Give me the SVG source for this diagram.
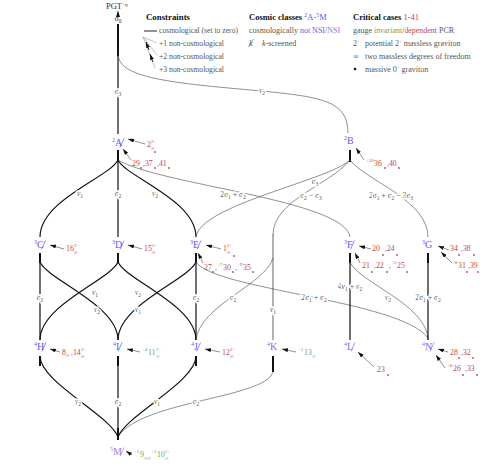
<svg xmlns="http://www.w3.org/2000/svg" width="480" height="473" viewBox="0 0 480 473">
<style>
text{font-family:"Liberation Serif",serif}
.nl{font-size:10px;fill:#5b5bf5}
.nsi{fill:#7c6cf0}
.m{fill:#a878d8}
.ns{font-size:6px}
.sl{stroke:#5b5bf5;stroke-width:0.7}
.sli{stroke:#7c6cf0;stroke-width:0.7}
.slm{stroke:#a878d8;stroke-width:0.7}
.el{font-size:7.8px;fill:#555;paint-order:stroke;stroke:#fff;stroke-width:3px;stroke-linejoin:round;text-anchor:middle}
.i{font-style:italic}
.sb{font-size:5.5px}
.r{font-size:7.8px;fill:#c04848}
.g{font-size:7.8px;fill:#6f9f6f}
.sm{font-size:5px}
.c{fill:none;stroke:#111;stroke-width:1.2}
.k{fill:none;stroke:#111;stroke-width:2}
.nc{fill:none;stroke:#444;stroke-width:0.6}
.gr{fill:none;stroke:#888;stroke-width:1.3}
.an{fill:none;stroke:#444;stroke-width:0.6;marker-end:url(#ah)}
.dot{fill:#c04848}
.lg{font-size:8px;fill:#555}
.hd{font-size:8.5px;font-weight:bold;fill:#111}
</style>
<defs>
<marker id="ah" markerUnits="userSpaceOnUse" markerWidth="6" markerHeight="4" refX="6" refY="2" orient="auto"><path d="M0,0 L6,2 L0,4 z" fill="#111"/></marker>
</defs>

<!-- Legend -->
<g id="legend">
<text class="hd" x="146" y="20" textLength="44" lengthAdjust="spacingAndGlyphs">Constraints</text>
<line x1="144" y1="31" x2="157" y2="31" stroke="#111" stroke-width="0.9"/>
<text class="lg" x="159" y="33" textLength="79" lengthAdjust="spacingAndGlyphs">cosmological (set to zero)</text>
<line x1="143" y1="37" x2="157" y2="43" stroke="#888" stroke-width="0.5"/>
<line x1="143" y1="37" x2="157" y2="55" stroke="#888" stroke-width="0.5"/>
<line x1="143" y1="37" x2="155" y2="68" stroke="#888" stroke-width="0.5"/>
<line x1="149" y1="50" x2="146" y2="42" stroke="#111" stroke-width="0.9" marker-end="url(#ah)"/>
<line x1="153" y1="62" x2="150" y2="54" stroke="#111" stroke-width="0.9" marker-end="url(#ah)"/>
<text class="lg" x="159" y="46" textLength="65" lengthAdjust="spacingAndGlyphs">+1 non-cosmological</text>
<text class="lg" x="159" y="59" textLength="65" lengthAdjust="spacingAndGlyphs">+2 non-cosmological</text>
<text class="lg" x="159" y="72" textLength="65" lengthAdjust="spacingAndGlyphs">+3 non-cosmological</text>

<text class="hd" x="249" y="20">Cosmic classes <tspan fill="#5b5bf5" font-weight="normal"><tspan class="ns" dy="-3">2</tspan><tspan dy="3">A-</tspan><tspan class="ns" dy="-3">5</tspan><tspan dy="3">M</tspan></tspan></text>
<text class="lg" x="249" y="33">cosmologically <tspan fill="#5b5bf5">not NSI</tspan>/<tspan fill="#a070e0">NSI</tspan></text>
<text class="lg i" x="249" y="46">k</text>
<line x1="248.5" y1="47" x2="253.5" y2="39" stroke="#555" stroke-width="0.6"/>
<text class="lg" x="262" y="46"><tspan class="i">k</tspan>-screened</text>

<text class="hd" x="353" y="20">Critical cases <tspan fill="#c04848" font-weight="normal">1-41</tspan></text>
<text class="lg" x="353" y="33" textLength="101" lengthAdjust="spacingAndGlyphs">gauge <tspan fill="#6f9f6f">invariant</tspan>/<tspan fill="#c04848">dependent</tspan> PCR</text>
<text class="lg" x="353" y="46">2<tspan class="sm" dy="-3">+</tspan><tspan x="365" dy="3">potential 2</tspan><tspan class="sm" dy="-3">+</tspan><tspan dy="3"> massless graviton</tspan></text>
<text class="lg" x="353" y="59">∞<tspan x="365">two massless degrees of freedom</tspan></text>
<circle cx="355" cy="69" r="1.3" fill="#111"/>
<text class="lg" x="365" y="72">massive 0<tspan class="sm" dy="-3">−</tspan><tspan dy="3"> graviton</tspan></text>
</g>

<!-- Connectors -->
<g id="connectors">
<line x1="118" y1="16" x2="118" y2="11" stroke="#111" stroke-width="0.6" marker-end="url(#ah)"/>
<path class="k" d="M118,24 L118,56"/>
<path class="c" d="M118,56 L118,134"/>
<path class="nc" d="M118,55 C120,78 170,83 262,91 C320,97 348,100 348,133"/>
<path class="k" d="M118,150 L118,162"/>
<path class="c" d="M118,160 C110,177 40,200 40,237"/>
<path class="c" d="M118,160 L118,237"/>
<path class="c" d="M118,160 C126,177 196,200 196,237"/>
<path class="nc" d="M118,160 C160,185 345,200 350,237"/>
<path class="k" d="M350,150 L350,162"/>
<path class="nc" d="M350,160 C330,180 200,205 196,237"/>
<path class="nc" d="M350,160 C330,185 273,200 273,235"/>
<path class="gr" d="M273,234 L273,340"/>
<path class="nc" d="M350,160 C365,180 428,200 428,237"/>

<path class="k" d="M40,253 L40,263"/>
<path class="k" d="M118,253 L118,263"/>
<path class="k" d="M196,253 L196,263"/>
<path class="k" d="M350,253 L350,263"/>
<path class="k" d="M428,253 L428,263"/>
<path class="c" d="M40,262 L40,340"/>
<path class="c" d="M40,262 C48,280 118,305 118,340"/>
<path class="c" d="M118,262 C110,280 40,305 40,340"/>
<path class="c" d="M118,262 C126,280 196,305 196,340"/>
<path class="c" d="M196,262 C188,280 118,305 118,340"/>
<path class="c" d="M196,262 L196,340"/>
<path class="nc" d="M196,262 C215,290 400,300 428,338"/>
<path class="nc" d="M273,258 C265,285 200,305 196,340"/>
<path class="c" d="M350,262 L350,340"/>
<path class="nc" d="M350,262 C358,282 428,305 428,340"/>
<path class="c" d="M428,262 L428,340"/>

<path class="k" d="M40,356 L40,366"/>
<path class="k" d="M118,356 L118,366"/>
<path class="k" d="M196,356 L196,366"/>
<path class="k" d="M273,356 L273,372"/>
<path class="c" d="M40,356 C40,382 110,415 118,437"/>
<path class="c" d="M118,356 L118,440"/>
<path class="c" d="M196,356 C196,382 126,415 118,437"/>
<path class="nc" d="M273,370 C273,398 140,400 118,437"/>
<path class="k" d="M118,428 L118,440"/>

<!-- edge labels -->
<text class="el" x="118" y="94"><tspan class="i">σ</tspan><tspan class="sb" dy="1.5">3</tspan></text>
<text class="el" x="262" y="93"><tspan class="i">v</tspan><tspan class="sb" dy="1.5">2</tspan></text>
<text class="el" x="80" y="196"><tspan class="i">v</tspan><tspan class="sb" dy="1.5">1</tspan></text>
<text class="el" x="118" y="196"><tspan class="i">σ</tspan><tspan class="sb" dy="1.5">2</tspan></text>
<text class="el" x="155" y="196"><tspan class="i">v</tspan><tspan class="sb" dy="1.5">2</tspan></text>
<text class="el" x="233" y="197">2<tspan class="i">σ</tspan><tspan class="sb" dy="1.5">1</tspan><tspan dy="-1.5"> + </tspan><tspan class="i">σ</tspan><tspan class="sb" dy="1.5">2</tspan></text>
<text class="el" x="315" y="184"><tspan class="i">σ</tspan><tspan class="sb" dy="1.5">3</tspan></text>
<text class="el" x="311" y="198"><tspan class="i">σ</tspan><tspan class="sb" dy="1.5">2</tspan><tspan dy="-1.5"> − </tspan><tspan class="i">σ</tspan><tspan class="sb" dy="1.5">3</tspan></text>
<text class="el" x="391" y="198">2<tspan class="i">σ</tspan><tspan class="sb" dy="1.5">1</tspan><tspan dy="-1.5"> + </tspan><tspan class="i">σ</tspan><tspan class="sb" dy="1.5">2</tspan><tspan dy="-1.5"> − 3</tspan><tspan class="i">σ</tspan><tspan class="sb" dy="1.5">3</tspan></text>

<text class="el" x="40" y="300"><tspan class="i">σ</tspan><tspan class="sb" dy="1.5">2</tspan></text>
<text class="el" x="95" y="295"><tspan class="i">v</tspan><tspan class="sb" dy="1.5">1</tspan></text>
<text class="el" x="138" y="295"><tspan class="i">v</tspan><tspan class="sb" dy="1.5">2</tspan></text>
<text class="el" x="97" y="312"><tspan class="i">v</tspan><tspan class="sb" dy="1.5">2</tspan></text>
<text class="el" x="138" y="312"><tspan class="i">v</tspan><tspan class="sb" dy="1.5">1</tspan></text>
<text class="el" x="196" y="300"><tspan class="i">σ</tspan><tspan class="sb" dy="1.5">2</tspan></text>
<text class="el" x="233" y="300"><tspan class="i">σ</tspan><tspan class="sb" dy="1.5">2</tspan></text>
<text class="el" x="273" y="312"><tspan class="i">v</tspan><tspan class="sb" dy="1.5">1</tspan></text>
<text class="el" x="314" y="300">2<tspan class="i">σ</tspan><tspan class="sb" dy="1.5">1</tspan><tspan dy="-1.5"> + </tspan><tspan class="i">σ</tspan><tspan class="sb" dy="1.5">2</tspan></text>
<text class="el" x="350" y="289">4<tspan class="i">v</tspan><tspan class="sb" dy="1.5">1</tspan><tspan dy="-1.5"> + </tspan><tspan class="i">v</tspan><tspan class="sb" dy="1.5">2</tspan></text>
<text class="el" x="388" y="300"><tspan class="i">v</tspan><tspan class="sb" dy="1.5">2</tspan></text>
<text class="el" x="428" y="300">2<tspan class="i">σ</tspan><tspan class="sb" dy="1.5">1</tspan><tspan dy="-1.5"> + </tspan><tspan class="i">σ</tspan><tspan class="sb" dy="1.5">2</tspan></text>

<text class="el" x="78" y="404"><tspan class="i">v</tspan><tspan class="sb" dy="1.5">2</tspan></text>
<text class="el" x="118" y="404"><tspan class="i">σ</tspan><tspan class="sb" dy="1.5">2</tspan></text>
<text class="el" x="157" y="404"><tspan class="i">v</tspan><tspan class="sb" dy="1.5">1</tspan></text>
<text class="el" x="196" y="404"><tspan class="i">σ</tspan><tspan class="sb" dy="1.5">2</tspan></text>

<!-- annotation arrows -->
<line class="an" x1="145" y1="144" x2="128" y2="139"/>
<line class="an" x1="131" y1="160" x2="123" y2="149"/>
<line class="an" x1="364" y1="160" x2="356" y2="148"/>
<line class="an" x1="64" y1="249" x2="50" y2="245"/>
<line class="an" x1="142" y1="249" x2="128" y2="245"/>
<line class="an" x1="221" y1="249" x2="206" y2="245"/>
<line class="an" x1="203" y1="263" x2="198" y2="253"/>
<line class="an" x1="371" y1="249" x2="359" y2="246"/>
<line class="an" x1="360" y1="263" x2="355" y2="253"/>
<line class="an" x1="449" y1="250" x2="438" y2="246"/>
<line class="an" x1="452" y1="263" x2="441" y2="252"/>
<line class="an" x1="60" y1="352" x2="50" y2="349"/>
<line class="an" x1="140" y1="352" x2="127" y2="349"/>
<line class="an" x1="220" y1="352" x2="205" y2="349"/>
<line class="an" x1="296" y1="352" x2="282" y2="349"/>
<line class="an" x1="374" y1="367" x2="358" y2="352"/>
<line class="an" x1="448" y1="352" x2="438" y2="349"/>
<line class="an" x1="445" y1="368" x2="436" y2="355"/>
<line class="an" x1="132" y1="455" x2="126" y2="451"/>
</g>

<!-- Nodes -->
<g id="node-PGT">
<text x="106" y="9" font-size="8.5" fill="#333">PGT<tspan class="sm" dy="-3">+q</tspan></text>
<text x="118" y="21" font-size="8.5" fill="#333" text-anchor="middle"><tspan class="i">σ</tspan><tspan class="sb" dy="1.5">0</tspan></text>
</g>

<g id="node-2A">
<text class="nl" x="112" y="146"><tspan class="ns" dy="-4">2</tspan><tspan dy="4">A</tspan></text>
<line class="sl" x1="120" y1="147.5" x2="124" y2="138.5"/>
<text class="r" x="147" y="147">2</text><text class="r sm" x="151" y="142.5">2+</text><text class="r sm" x="151" y="150">∞</text>
<circle class="dot" cx="155" cy="152" r="0.9"/>
<text class="r" x="132" y="166">29</text><circle class="dot" cx="141" cy="168" r="0.9"/>
<text class="r" x="143" y="166">,37</text><circle class="dot" cx="155" cy="168" r="0.9"/>
<text class="r" x="157" y="166">,41</text><circle class="dot" cx="169" cy="168" r="0.9"/>
</g>

<g id="node-2B">
<text class="nl" x="344" y="144"><tspan class="ns" dy="-4">2</tspan><tspan dy="4">B</tspan></text>
<text class="r sm" x="366" y="162">+10</text><text class="r" x="374" y="166">36</text><circle class="dot" cx="385" cy="168" r="0.9"/>
<text class="r" x="387" y="166">,40</text><circle class="dot" cx="399" cy="168" r="0.9"/>
</g>

<g id="node-3C">
<text class="nl" x="34" y="248"><tspan class="ns" dy="-4">3</tspan><tspan dy="4">C</tspan></text>
<line class="sl" x1="41.5" y1="249.5" x2="45.5" y2="240.5"/>
<text class="r" x="66" y="251">16</text><text class="r sm" x="74" y="246.5">2+</text><text class="r sm" x="74" y="254">∞</text>
</g>

<g id="node-3D">
<text class="nl" x="112" y="248"><tspan class="ns" dy="-4">3</tspan><tspan dy="4">D</tspan></text>
<line class="sl" x1="120" y1="249.5" x2="124" y2="240.5"/>
<text class="r" x="144" y="251">15</text><text class="r sm" x="152" y="246.5">2+</text><text class="r sm" x="152" y="254">∞</text>
</g>

<g id="node-3E">
<text class="nl" x="190" y="248"><tspan class="ns" dy="-4">3</tspan><tspan dy="4">E</tspan></text>
<line class="sl" x1="197" y1="249.5" x2="201" y2="240.5"/>
<text class="r" x="223" y="251">1</text><text class="r sm" x="227" y="246.5">2+</text><text class="r sm" x="227" y="254">∞</text>
<circle class="dot" cx="234" cy="256" r="0.9"/>
<text class="r" x="204" y="270">27</text><circle class="dot" cx="213" cy="272" r="0.9"/>
<text class="r" x="215" y="270">,</text><text class="r sm" x="217" y="265.5">+7</text><text class="r" x="223" y="270">30</text><circle class="dot" cx="233" cy="272" r="0.9"/>
<text class="r" x="235" y="270">,</text><text class="r sm" x="237" y="265.5">+9</text><text class="r" x="243" y="270">35</text><circle class="dot" cx="253" cy="272" r="0.9"/>
</g>

<g id="node-3F">
<text class="nl" x="344" y="248"><tspan class="ns" dy="-4">3</tspan><tspan dy="4">F</tspan></text>
<line class="sl" x1="350.5" y1="249.5" x2="354.5" y2="240.5"/>
<text class="r" x="372" y="251">20</text><circle class="dot" cx="383" cy="255" r="0.9"/>
<text class="r" x="385" y="251">,24</text><circle class="dot" cx="397" cy="255" r="0.9"/>
<text class="r" x="362" y="268">21</text><circle class="dot" cx="372" cy="272" r="0.9"/>
<text class="r" x="374" y="268">,22</text><circle class="dot" cx="387" cy="272" r="0.9"/>
<text class="r" x="389" y="268">,</text><text class="r sm" x="391" y="263.5">+5</text><text class="r" x="397" y="268">25</text><circle class="dot" cx="407" cy="272" r="0.9"/>
</g>

<g id="node-3G">
<text class="nl" x="422" y="248"><tspan class="ns" dy="-4">3</tspan><tspan dy="4">G</tspan></text>
<text class="r" x="450" y="251">34</text><circle class="dot" cx="459" cy="255" r="0.9"/>
<text class="r" x="461" y="251">,38</text><circle class="dot" cx="474" cy="255" r="0.9"/>
<text class="r sm" x="452" y="264">+8</text><text class="r" x="458" y="268">31</text><circle class="dot" cx="467" cy="272" r="0.9"/>
<text class="r" x="468" y="268">,39</text><circle class="dot" cx="478" cy="272" r="0.9"/>
</g>

<g id="node-4H">
<text class="nl" x="34" y="350"><tspan class="ns" dy="-4">4</tspan><tspan dy="4">H</tspan></text>
<line class="sl" x1="42" y1="351.5" x2="46" y2="342.5"/>
<text class="r" x="62" y="355">8</text><text class="r sm" x="66" y="357">∞</text><text class="r" x="71" y="355">,14</text><text class="r sm" x="81" y="350.5">2+</text><text class="r sm" x="81" y="358">∞</text>
</g>

<g id="node-4I">
<text class="nl" x="113" y="350"><tspan class="ns" dy="-4">4</tspan><tspan dy="4">I</tspan></text>
<line class="sl" x1="118" y1="351.5" x2="122" y2="342.5"/>
<text class="g sm" x="142" y="351">+4</text><text class="g" x="148" y="355">11</text><text class="g sm" x="156" y="350.5">2+</text><text class="g sm" x="156" y="358">∞</text>
</g>

<g id="node-4J">
<text class="nl" x="191" y="350"><tspan class="ns" dy="-4">4</tspan><tspan dy="4">J</tspan></text>
<line class="sl" x1="196.5" y1="351.5" x2="200.5" y2="342.5"/>
<text class="r" x="222" y="355">12</text><text class="r sm" x="230" y="350.5">2+</text><text class="r sm" x="230" y="358">∞</text>
</g>

<g id="node-4K">
<text class="nl nsi" x="267" y="350"><tspan class="ns" dy="-4">4</tspan><tspan dy="4">K</tspan></text>
<text class="g sm" x="298" y="351">+2</text><text class="g" x="304" y="355">13</text><text class="g sm" x="312" y="357.5">∞</text>
</g>

<g id="node-4L">
<text class="nl nsi" x="344" y="350"><tspan class="ns" dy="-4">4</tspan><tspan dy="4">L</tspan></text>
<line class="sli" x1="351" y1="351.5" x2="355" y2="342.5"/>
<text class="r" x="377" y="372">23</text><circle class="dot" cx="388" cy="375" r="0.9"/>
</g>

<g id="node-4N">
<text class="nl nsi" x="422" y="350"><tspan class="ns" dy="-4">4</tspan><tspan dy="4">N</tspan></text>
<line class="sli" x1="430" y1="351.5" x2="434" y2="342.5"/>
<text class="r" x="450" y="355">28</text><circle class="dot" cx="459" cy="358" r="0.9"/>
<text class="r" x="461" y="355">,32</text><circle class="dot" cx="473" cy="358" r="0.9"/>
<text class="r sm" x="447" y="367">+6</text><text class="r" x="453" y="371">26</text><circle class="dot" cx="463" cy="375" r="0.9"/>
<text class="r" x="465" y="371">,33</text><circle class="dot" cx="477" cy="375" r="0.9"/>
</g>

<g id="node-5M">
<text class="nl m" x="110" y="455"><tspan class="ns" dy="-4">5</tspan><tspan dy="4">M</tspan></text>
<line class="slm" x1="120" y1="456.5" x2="124" y2="447.5"/>
<text class="g sm" x="134" y="453">+1</text><text class="g" x="140" y="457">9</text><text class="g sm" x="144" y="459.5">∞∞</text>
<text class="g sm" x="151" y="453">+3</text><text class="g" x="157" y="457">10</text><text class="g sm" x="165" y="452.5">2+</text><text class="g sm" x="165" y="460">∞</text>
</g>
</svg>
